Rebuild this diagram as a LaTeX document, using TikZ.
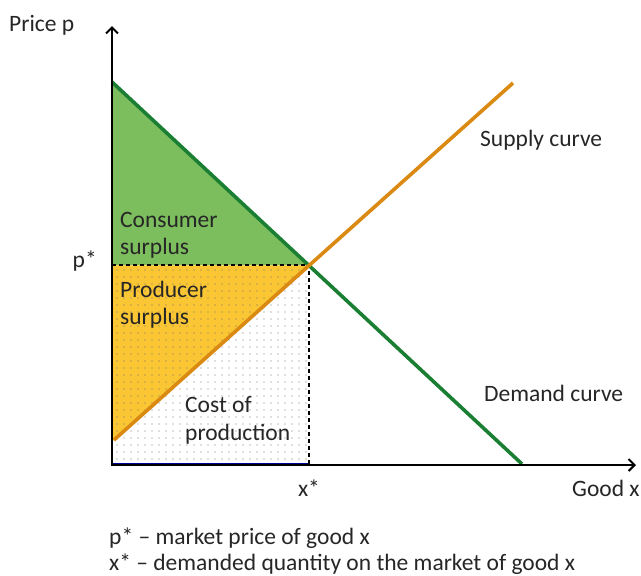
\documentclass[tikz,border=0pt]{standalone}
\usepackage{fontspec}
\setmainfont{Carlito}
\usetikzlibrary{arrows.meta,patterns.meta}
\definecolor{cfill}{HTML}{7CBD5E}
\definecolor{cline}{HTML}{1B7F33}
\definecolor{sline}{HTML}{DA8A12}
\definecolor{pfill}{HTML}{FBC633}
\begin{document}
\begin{tikzpicture}[x=1pt,y=-1pt,
  lbl/.style={font=\fontsize{23.5}{27}\selectfont, text=black!85, inner sep=0pt, anchor=base west},
  axis/.style={line width=2.6pt, -{Straight Barb[length=6pt,width=12pt,line width=2pt]}},
  curve/.style={line width=3.6pt}]
\useasboundingbox (0,0) rectangle (641,576);
\coordinate (O) at (112,465);
\coordinate (E) at (309.3,265.3);
\coordinate (D0) at (112,82);
\coordinate (D1) at (522,464);
\coordinate (S0) at (114,440);
\coordinate (S1) at (513,83);
\coordinate (P) at (112,265.3);
\coordinate (X) at (309.3,465);
\coordinate (SL) at (112,441.8);
% fills
\fill[cfill] (D0) -- (P) -- (E) -- cycle;
\fill[pfill] (P) -- (E) -- (SL) -- cycle;
\fill[pattern={Dots[radius=0.7pt,distance=6.5pt]}, pattern color=black!55] (P) -- (E) -- (X) -- (O) -- cycle;
\draw[blue!60!black, line width=0.8pt] (112,463.5) -- (309.3,463.5);
% dashed
\draw[line width=2pt, dash pattern=on 4pt off 3pt] (P) -- (E) -- (X);
% curves
\draw[curve, cline] (D0) -- (D1);
\draw[curve, sline] (S0) -- (S1);
% axes
\draw[axis] (112,466.3) -- (112,26);
\draw[axis] (110.7,465) -- (636,465);
% labels
\node[lbl] (py) at (9,31) {Price p};
\node[lbl] (gx) at (572,496) {Good x};
\node[lbl, anchor=base east] (ps) at (97,267) {p*};
\node[lbl, anchor=base] (xs) at (309,496) {x*};
\node[lbl] (sc) at (480,146) {Supply curve};
\node[lbl] (dc) at (484,401) {Demand curve};
\node[lbl] (cs1) at (120,227) {Consumer};
\node[lbl] (cs2) at (120,254) {surplus};
\node[lbl] (pr1) at (120,297) {Producer};
\node[lbl] (pr2) at (120,324) {surplus};
\node[lbl] (cp1) at (185,412) {Cost of};
\node[lbl] (cp2) at (185,440) {production};
\node[lbl] (l1) at (109,544) {p* – market price of good x};
\node[lbl] (l2) at (109,570) {x* – demanded quantity on the market of good x};
\end{tikzpicture}
\end{document}
